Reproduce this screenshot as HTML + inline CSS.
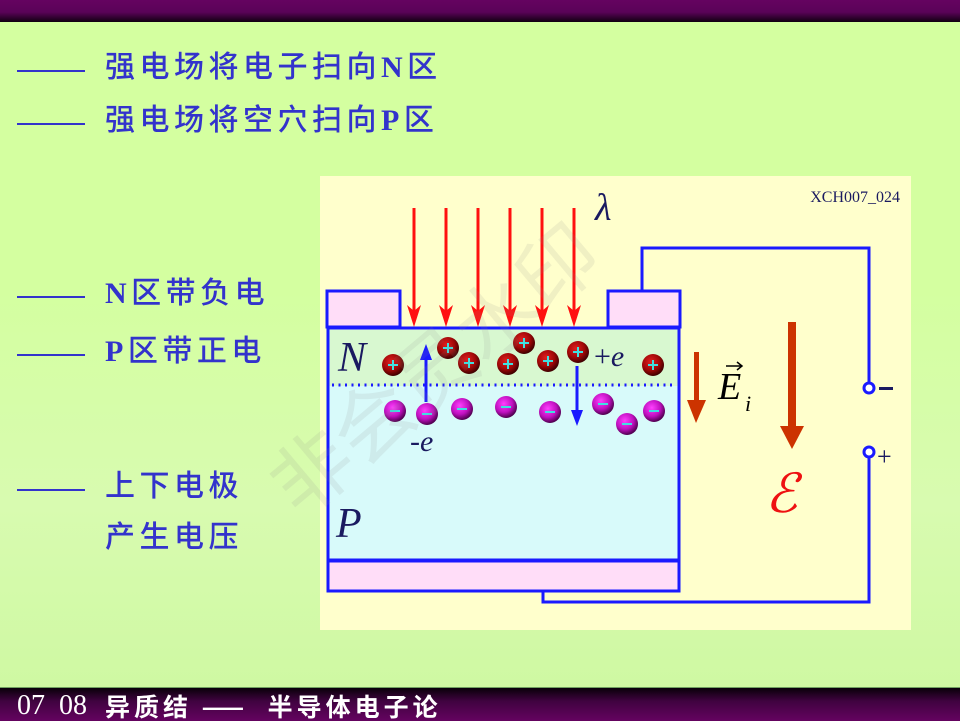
<!DOCTYPE html>
<html><head><meta charset="utf-8"><style>
html,body{margin:0;padding:0}
body{width:960px;height:720px;overflow:hidden;position:relative;background:linear-gradient(180deg,#d4ffa0 0%,#d4ffa0 40%,#d8fbb0 70%,#cdf8a0 100%)}
.top{position:absolute;left:0;top:0;width:960px;height:22px;background:linear-gradient(180deg,#650360 0%,#5a0358 55%,#100010 100%)}
.bot{position:absolute;left:0;top:687px;width:960px;height:33px;overflow:hidden;background:linear-gradient(180deg,#080008 0%,#400340 40%,#650360 100%);border-top:1px solid #70a060}
.bot span{position:absolute;top:0;line-height:36px;color:#fff;white-space:pre}
.t{position:absolute;color:#3333cc;font-size:30px;letter-spacing:4.5px;font-family:"Liberation Serif","Noto Sans CJK SC",sans-serif;font-weight:500;white-space:pre;line-height:34px}
.t b{font-family:"Liberation Serif",serif;font-weight:bold}
.d{position:absolute;left:17px;width:68px;height:2px;background:#3333cc}
</style></head><body>
<div class="top"></div>
<div class="d" style="top:70px"></div><div class="t" style="left:105px;top:51px">强电场将电子扫向<b>N</b>区</div>
<div class="d" style="top:123px"></div><div class="t" style="left:105px;top:104px">强电场将空穴扫向<b>P</b>区</div>
<div class="d" style="top:296px"></div><div class="t" style="left:105px;top:277px"><b>N</b>区带负电</div>
<div class="d" style="top:354px"></div><div class="t" style="left:105px;top:335px"><b>P</b>区带正电</div>
<div class="d" style="top:489px"></div><div class="t" style="left:105px;top:470px">上下电极</div>
<div class="t" style="left:105px;top:521px">产生电压</div>
<svg style="position:absolute;left:0;top:0" width="960" height="720" font-family="Liberation Serif,serif">
<defs>
<radialGradient id="gp" cx="40%" cy="35%" r="65%"><stop offset="0" stop-color="#e02020"/><stop offset="0.6" stop-color="#a00808"/><stop offset="1" stop-color="#400000"/></radialGradient>
<radialGradient id="gn" cx="40%" cy="35%" r="65%"><stop offset="0" stop-color="#ff40ff"/><stop offset="0.6" stop-color="#c010c0"/><stop offset="1" stop-color="#500050"/></radialGradient>
</defs>
<rect x="320" y="176" width="591" height="454" fill="#ffffcc"/>
<text x="900" y="202" font-size="16" fill="#1a1a60" text-anchor="end">XCH007_024</text>
<text x="595" y="220" font-size="38" font-style="italic" fill="#1a1a60">λ</text>
<polyline points="642,290 642,248 869,248 869,382" fill="none" stroke="#1a1aff" stroke-width="3"/>
<circle cx="869" cy="388" r="5" fill="#fff" stroke="#1a1aff" stroke-width="3"/>
<rect x="879" y="387" width="14" height="3" fill="#1a1a60"/>
<circle cx="869" cy="452" r="5" fill="#fff" stroke="#1a1aff" stroke-width="3"/>
<text x="877" y="465" font-size="26" fill="#1a1a60">+</text>
<polyline points="869,457 869,602 543,602 543,592" fill="none" stroke="#1a1aff" stroke-width="3"/>
<rect x="327" y="291" width="73" height="36" fill="#ffddf8" stroke="#1a1aff" stroke-width="3"/>
<rect x="608" y="291" width="72" height="36" fill="#ffddf8" stroke="#1a1aff" stroke-width="3"/>
<rect x="328" y="561" width="351" height="30" fill="#ffddf8" stroke="#1a1aff" stroke-width="3"/>
<rect x="328" y="328" width="351" height="58" fill="#d8f8d0"/>
<rect x="328" y="386" width="351" height="174" fill="#d8fafa"/>
<rect x="328" y="328" width="351" height="232" fill="none" stroke="#1a1aff" stroke-width="3"/>
<line x1="332" y1="385" x2="676" y2="385" stroke="#1a1aff" stroke-width="3" stroke-dasharray="2,4.5"/>
<g stroke="#ff1010" stroke-width="3">
<line x1="414" y1="208" x2="414" y2="318"/><line x1="446" y1="208" x2="446" y2="318"/><line x1="478" y1="208" x2="478" y2="318"/><line x1="510" y1="208" x2="510" y2="318"/><line x1="542" y1="208" x2="542" y2="318"/><line x1="574" y1="208" x2="574" y2="318"/>
</g>
<g fill="#ff1010">
<polygon points="407,305 414,327 421,305 414,311"/><polygon points="439,305 446,327 453,305 446,311"/><polygon points="471,305 478,327 485,305 478,311"/><polygon points="503,305 510,327 517,305 510,311"/><polygon points="535,305 542,327 549,305 542,311"/><polygon points="567,305 574,327 581,305 574,311"/>
</g>
<text x="338" y="371" font-size="42" font-style="italic" fill="#1a1a60">N</text>
<text x="336" y="537" font-size="42" font-style="italic" fill="#1a1a60">P</text>
<text x="594" y="366" font-size="30" fill="#1a1a60">+<tspan font-style="italic">e</tspan></text>
<text x="410" y="451" font-size="30" font-style="italic" fill="#1a1a60">-e</text>
<line x1="426" y1="402" x2="426" y2="356" stroke="#1a1aff" stroke-width="3"/>
<polygon points="420,360 426,344 432,360" fill="#1a1aff"/>
<line x1="577" y1="366" x2="577" y2="414" stroke="#1a1aff" stroke-width="3"/>
<polygon points="571,410 577,426 583,410" fill="#1a1aff"/>
<g stroke="#40e0e0" stroke-width="2">
<g><circle cx="393" cy="365" r="11" fill="url(#gp)" stroke="none"/><path d="M388,365h10M393,360v10"/></g>
<g><circle cx="448" cy="348" r="11" fill="url(#gp)" stroke="none"/><path d="M443,348h10M448,343v10"/></g>
<g><circle cx="469" cy="363" r="11" fill="url(#gp)" stroke="none"/><path d="M464,363h10M469,358v10"/></g>
<g><circle cx="508" cy="364" r="11" fill="url(#gp)" stroke="none"/><path d="M503,364h10M508,359v10"/></g>
<g><circle cx="524" cy="343" r="11" fill="url(#gp)" stroke="none"/><path d="M519,343h10M524,338v10"/></g>
<g><circle cx="548" cy="361" r="11" fill="url(#gp)" stroke="none"/><path d="M543,361h10M548,356v10"/></g>
<g><circle cx="578" cy="352" r="11" fill="url(#gp)" stroke="none"/><path d="M573,352h10M578,347v10"/></g>
<g><circle cx="653" cy="365" r="11" fill="url(#gp)" stroke="none"/><path d="M648,365h10M653,360v10"/></g>
<circle cx="395" cy="411" r="11" fill="url(#gn)" stroke="none"/><line x1="390" y1="411" x2="400" y2="411"/>
<circle cx="427" cy="414" r="11" fill="url(#gn)" stroke="none"/><line x1="422" y1="414" x2="432" y2="414"/>
<circle cx="462" cy="409" r="11" fill="url(#gn)" stroke="none"/><line x1="457" y1="409" x2="467" y2="409"/>
<circle cx="506" cy="407" r="11" fill="url(#gn)" stroke="none"/><line x1="501" y1="407" x2="511" y2="407"/>
<circle cx="550" cy="412" r="11" fill="url(#gn)" stroke="none"/><line x1="545" y1="412" x2="555" y2="412"/>
<circle cx="603" cy="404" r="11" fill="url(#gn)" stroke="none"/><line x1="598" y1="404" x2="608" y2="404"/>
<circle cx="627" cy="424" r="11" fill="url(#gn)" stroke="none"/><line x1="622" y1="424" x2="632" y2="424"/>
<circle cx="654" cy="411" r="11" fill="url(#gn)" stroke="none"/><line x1="649" y1="411" x2="659" y2="411"/>
</g>
<rect x="694" y="352" width="5" height="50" fill="#cc3300"/>
<polygon points="687,400 706,400 696,423" fill="#cc3300"/>
<rect x="788" y="322" width="8" height="106" fill="#cc3300"/>
<polygon points="780,426 804,426 792,449" fill="#cc3300"/>
<text x="718" y="399" font-size="38" font-style="italic" fill="#000">E</text>
<text x="745" y="411" font-size="22" font-style="italic" fill="#000">i</text>
<path d="M726,366 L742,366 M737,362 L742,366 L737,370" stroke="#000" stroke-width="1.5" fill="none"/>
<text x="765" y="512" font-size="54" font-style="italic" fill="#ee1111">ℰ</text>
<text x="0" y="0" font-size="80" fill="#888" fill-opacity="0.13" font-family="Noto Sans CJK SC,sans-serif" transform="translate(300,520) rotate(-40)">非会员水印</text>
</svg>
<div class="bot"><span style="left:17px;font-size:28px;font-family:'Liberation Serif',serif">07  08</span><span style="left:105px;font-size:25px;letter-spacing:4px;font-weight:bold;font-family:'Noto Sans CJK SC',sans-serif">异质结 ——  半导体电子论</span></div>
</body></html>
